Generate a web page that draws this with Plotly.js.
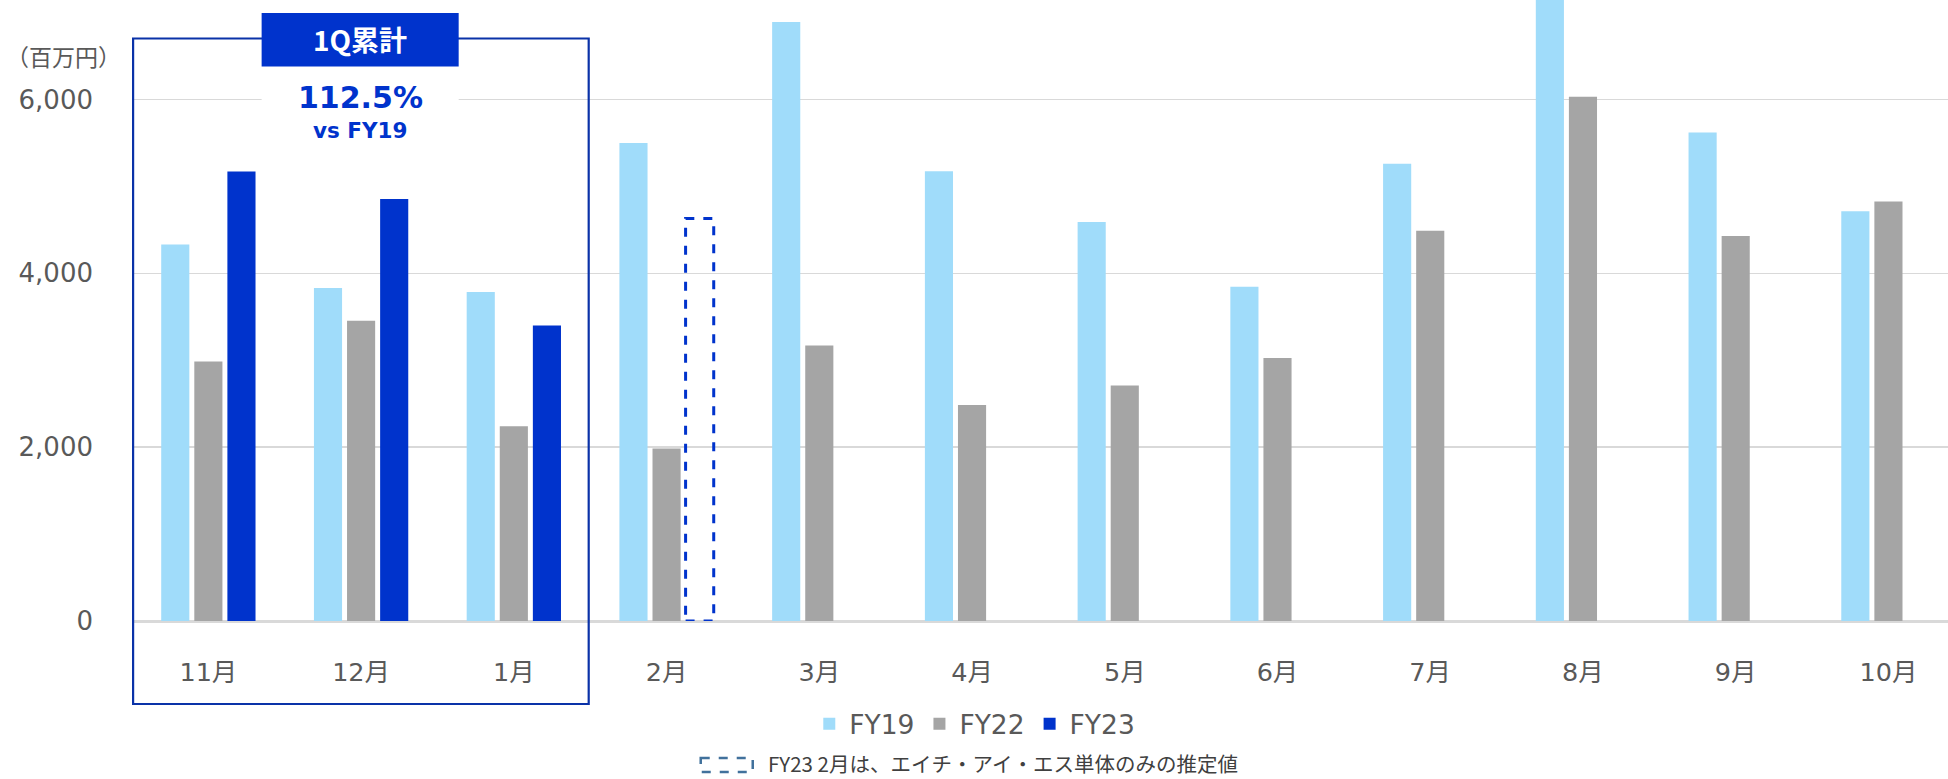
<!DOCTYPE html>
<html>
<head>
<meta charset="utf-8">
<script src="https://cdn.plot.ly/plotly-3.0.1.min.js"></script>
<style>html,body{margin:0;padding:0;background:#fff;}#chart{width:1948px;height:779px;}</style>
</head>
<body>
<div id="chart"></div>
<script>
// ---- data ----
const months = ["11月","12月","1月","2月","3月","4月","5月","6月","7月","8月","9月","10月"];
const fy19 = [4330, 3830, 3785, 5500, 6890, 5175, 4590, 3845, 5260, 7300, 5620, 4715];
const fy22 = [2985, 3455, 2240, 1985, 3170, 2485, 2710, 3025, 4490, 6030, 4430, 4825];
const fy23 = [5170, 4855, 3400, null, null, null, null, null, null, null, null, null];
const fy23Estimate = [null, null, null, 4630, null, null, null, null, null, null, null, null];
const seriesNames = ["FY19", "FY22", "FY23"];
const yTicks = [0, 2000, 4000, 6000];
const yTickText = ["0", "2,000", "4,000", "6,000"];
const boxLabel = "1Q累計";
const boxValue = "112.5%";
const boxSub = "vs FY19";
const unitLabel = "（百万円）";
const noteText = "FY23 2月は、エイチ・アイ・エス単体のみの推定値";

// ---- style / layout ----
const W = 1948, H = 779;
const mL = 132.4, mR = 0, mT = 0, mB = 158;
const plotW = W - mL - mR, plotH = H - mT - mB;
const px = x => (x - mL) / plotW;          // pixel -> paper x
const py = y => (H - mB - y) / plotH;      // pixel -> paper y
const colors = ["#A0DCFA", "#A5A5A5", "#0033CC"];
const bargap = 0.35, bargroupgap = 0.15;
const FONT = "DejaVu Sans, Noto Sans CJK JP, sans-serif";
const JFONT = "Noto Sans CJK JP, DejaVu Sans, sans-serif";

const traces = [fy19, fy22, fy23].map((vals, i) => ({
  type: "bar", name: seriesNames[i], x: months, y: vals,
  marker: {color: colors[i], line: {width: 0}},
  hoverinfo: "skip"
}));

// dashed outline for the estimated FY23 value, built from the data
const slot = (1 - bargap) / 3;
const barW = slot * (1 - bargroupgap);
const shapes = [];
fy23Estimate.forEach((v, i) => {
  if (v == null) return;
  const c = i + slot; // FY23 is third slot in group
  shapes.push({type: "rect", xref: "x", yref: "y", x0: c - barW / 2, x1: c + barW / 2, y0: 0, y1: v,
    line: {color: "#0033CC", width: 3, dash: "dash"}, fillcolor: "rgba(0,0,0,0)", layer: "above"});
});

// 1Q box
shapes.push({type: "rect", xref: "paper", yref: "paper", x0: px(133.5), x1: px(589), y0: py(38.5), y1: py(704),
  line: {color: "#0A32A8", width: 2.2}, fillcolor: "rgba(0,0,0,0)", layer: "above"});
shapes.push({type: "rect", xref: "paper", yref: "paper", x0: px(262), x1: px(459), y0: py(66.5), y1: py(150),
  line: {width: 0}, fillcolor: "#ffffff", layer: "above"});
shapes.push({type: "rect", xref: "paper", yref: "paper", x0: px(262), x1: px(459), y0: py(13), y1: py(66.5),
  line: {width: 0}, fillcolor: "#0033CC", layer: "above"});
// note icon
shapes.push({type: "rect", xref: "paper", yref: "paper", x0: px(701), x1: px(753), y0: py(758), y1: py(772),
  line: {color: "#41719C", width: 2.5, dash: "dash"}, fillcolor: "rgba(0,0,0,0)"});

const annotations = [
  {text: boxLabel, xref: "paper", yref: "paper", x: px(360.5), y: py(39.5), showarrow: false,
   font: {family: JFONT, size: 28, color: "#ffffff", weight: "bold"}, xanchor: "center", yanchor: "middle"},
  {text: "<b>" + boxValue + "</b>", xref: "paper", yref: "paper", x: px(361), y: py(97), showarrow: false,
   font: {family: FONT, size: 30, color: "#0033CC"}, xanchor: "center", yanchor: "middle"},
  {text: "<b>" + boxSub + "</b>", xref: "paper", yref: "paper", x: px(360), y: py(130), showarrow: false,
   font: {family: FONT, size: 21.5, color: "#0033CC"}, xanchor: "center", yanchor: "middle"},
  {text: unitLabel, xref: "paper", yref: "paper", x: px(4), y: py(56), showarrow: false,
   font: {family: JFONT, size: 23, color: "#595959"}, xanchor: "left", yanchor: "middle"},
  {text: noteText, xref: "paper", yref: "paper", x: px(766), y: py(763), showarrow: false,
   font: {family: JFONT, size: 20.5, color: "#404040"}, xanchor: "left", yanchor: "middle"}
];

const layout = {
  width: W, height: H,
  margin: {l: mL, r: mR, t: mT, b: mB, pad: 0},
  paper_bgcolor: "#ffffff", plot_bgcolor: "#ffffff",
  barmode: "group", bargap: bargap, bargroupgap: bargroupgap,
  showlegend: true,
  legend: {orientation: "h", x: px(975), y: py(724), xanchor: "center", yanchor: "middle",
    font: {family: FONT, size: 26.5, color: "#595959"}, itemwidth: 30, traceorder: "normal"},
  xaxis: {type: "category", range: [-0.5, 11.39], showgrid: false, showline: true, linecolor: "#D9D9D9", linewidth: 1.5,
    ticks: "", tickfont: {family: FONT, size: 25.5, color: "#595959"}, ticklabelstandoff: 28, fixedrange: true},
  yaxis: {range: [0, 7144], tickvals: yTicks, ticktext: yTickText, showgrid: true, gridcolor: "#D9D9D9", gridwidth: 1.5,
    zeroline: true, zerolinecolor: "#D9D9D9", zerolinewidth: 1.5, showline: false, ticks: "",
    tickfont: {family: FONT, size: 26, color: "#595959"}, ticklabelstandoff: 38, fixedrange: true},
  shapes: shapes,
  annotations: annotations
};

Plotly.newPlot("chart", traces, layout, {displayModeBar: false, staticPlot: true});
</script>
</body>
</html>
